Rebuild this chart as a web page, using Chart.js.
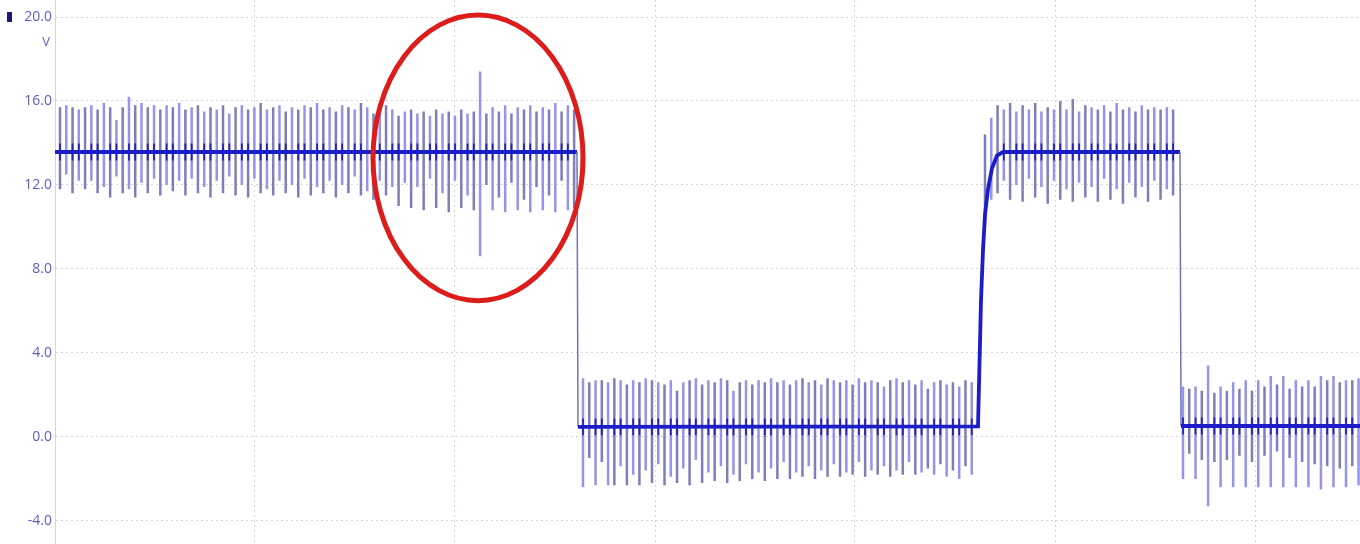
<!DOCTYPE html>
<html>
<head>
<meta charset="utf-8">
<script src="https://cdn.jsdelivr.net/npm/chart.js@4.4.0/dist/chart.umd.min.js"></script>
<style>
  html, body { margin: 0; padding: 0; background: #fff; }
  #wrap { width: 1360px; height: 544px; position: relative; }
</style>
</head>
<body>
<div id="wrap"><canvas id="scope"></canvas></div>
<script>
// trace levels per section (V) and spike timing (x in grid units, 10 per division)
const levels = [13.57, 0.48, 13.57, 0.52];
const spikeStart = [0.25, 26.4, 46.5, 56.4];
const spikePeriod = 0.3135;
const fallTimes = [26.1, 56.25];
const riseT = [46.15, 46.3, 46.4, 46.5, 46.65, 46.85, 47.1, 47.4];
const riseV = [0.5, 6.5, 8.9, 10.6, 11.8, 12.8, 13.4, 13.57];

const seg1Hi = [15.7, 15.8, 15.7, 15.6, 15.7, 15.8, 15.6, 15.9, 15.7, 15.1, 15.7, 16.2, 15.8, 15.9, 15.7, 15.8, 15.6, 15.8, 15.7, 15.9,
  15.6, 15.7, 15.8, 15.5, 15.7, 15.6, 15.8, 15.4, 15.7, 15.8, 15.6, 15.7, 15.9, 15.6, 15.7, 15.8, 15.5, 15.7, 15.6, 15.8,
  15.7, 15.9, 15.6, 15.7, 15.5, 15.8, 15.7, 15.6, 15.9, 15.7, 15.4, 15.7, 15.8, 15.6,
  15.3, 15.5, 15.6, 15.4, 15.5, 15.3, 15.6, 15.4, 15.5, 15.3, 15.6, 15.4, 15.5, 17.4, 15.4, 15.7, 15.5, 15.8, 15.4, 15.7,
  15.6, 15.8, 15.5, 15.7, 15.6, 15.9, 15.5, 15.8, 15.6];
const seg1Lo = [11.8, 12.5, 11.6, 12.2, 11.8, 12.2, 11.6, 11.9, 11.4, 12.4, 11.6, 11.8, 11.4, 12.1, 11.6, 12.3, 11.5, 12.0, 11.7, 12.2,
  11.5, 12.3, 11.6, 11.9, 11.4, 12.2, 11.6, 12.4, 11.5, 12.0, 11.4, 12.3, 11.6, 11.8, 11.5, 12.2, 11.6, 12.0, 11.4, 12.3,
  11.5, 11.9, 11.6, 12.2, 11.4, 12.0, 11.6, 12.4, 11.5, 11.7, 11.3, 12.2, 11.5, 11.9,
  11.0, 12.1, 10.9, 11.9, 10.8, 12.3, 10.9, 11.6, 10.7, 12.2, 10.9, 11.5, 10.8, 8.6, 12.0, 10.8, 11.4, 10.7, 12.1, 10.8,
  11.3, 10.7, 11.9, 10.8, 11.5, 10.7, 12.2, 10.8, 10.9];
const seg2Hi = [2.8, 2.6, 2.7, 2.7, 2.6, 2.8, 2.7, 2.5, 2.7, 2.6, 2.8, 2.7, 2.6, 2.5, 2.7, 2.2, 2.6, 2.7, 2.8, 2.5,
  2.7, 2.6, 2.8, 2.7, 2.2, 2.6, 2.7, 2.5, 2.7, 2.6, 2.8, 2.6, 2.7, 2.5, 2.7, 2.8, 2.6, 2.7, 2.5, 2.8,
  2.7, 2.6, 2.7, 2.5, 2.8, 2.6, 2.7, 2.6, 2.4, 2.7, 2.8, 2.6, 2.7, 2.5, 2.7, 2.3, 2.6, 2.7, 2.5, 2.6,
  2.4, 2.7, 2.6];
const seg2Lo = [-2.4, -1.0, -2.3, -1.2, -2.3, -2.3, -1.4, -2.3, -1.8, -2.3, -1.6, -2.2, -1.3, -2.3, -1.9, -2.2, -1.5, -2.3, -1.1, -2.2,
  -1.7, -2.1, -1.4, -2.2, -1.8, -2.1, -1.3, -2.0, -1.7, -2.1, -1.5, -2.0, -1.2, -2.0, -1.7, -1.9, -1.4, -2.0, -1.6, -1.9,
  -1.3, -1.9, -1.7, -1.8, -1.2, -1.9, -1.6, -1.8, -1.4, -1.9, -1.6, -1.8, -1.2, -1.8, -1.7, -1.5, -1.8, -1.3, -1.9, -1.6,
  -2.0, -1.4, -1.8];
const seg3Hi = [14.4, 15.2, 15.8, 15.6, 15.9, 15.5, 15.8, 15.6, 15.9, 15.5, 15.7, 15.6, 16.0, 15.6, 16.1, 15.5,
  15.8, 15.7, 15.6, 15.8, 15.5, 15.9, 15.6, 15.7, 15.5, 15.8, 15.6, 15.7, 15.6, 15.7, 15.6];
const seg3Lo = [10.0, 11.3, 11.6, 12.2, 11.3, 12.0, 11.2, 12.3, 11.4, 11.9, 11.1, 12.2, 11.3, 11.8, 11.2, 12.1,
  11.4, 11.9, 11.2, 12.3, 11.3, 11.8, 11.1, 12.1, 11.4, 11.9, 11.2, 12.2, 11.3, 11.8, 11.5];
const seg4Hi = [2.4, 2.3, 2.4, 2.2, 3.4, 2.1, 2.4, 2.2, 2.6, 2.3, 2.7, 2.2, 2.7, 2.4, 2.9, 2.5, 2.9, 2.3, 2.7, 2.4,
  2.7, 2.4, 2.9, 2.7, 2.9, 2.6, 2.7, 2.7, 2.8];
const seg4Lo = [-2.0, -0.8, -2.0, -1.1, -3.3, -1.2, -2.4, -1.1, -2.4, -0.9, -2.4, -1.2, -2.4, -0.9, -2.4, -0.7, -2.4, -1.0, -2.4, -1.2,
  -2.4, -1.3, -2.5, -1.4, -2.4, -1.5, -2.4, -1.4, -2.3];

const yTicks = [-4, 0, 4, 8, 12, 16, 20];
const xGrid = [0, 10, 20, 30, 40, 50, 60];
const unitLabel = 'V';
const marker = { x: 21.15, y: 13.29, rx: 5.25, ry: 6.8 };

const segHi = [seg1Hi, seg2Hi, seg3Hi, seg4Hi];
const segLo = [seg1Lo, seg2Lo, seg3Lo, seg4Lo];

// vertical spike strokes, separated by gaps
const spikePts = [];
const tickPts = [];
segHi.forEach((his, s) => {
  his.forEach((hi, i) => {
    const t = spikeStart[s] + i * spikePeriod;
    const lo = segLo[s][i];
    spikePts.push({ x: t, y: hi }, { x: t, y: lo }, { x: t, y: null });
    if (s === 2 && t < riseT[riseT.length - 1]) return;
    if (i % 3 === 1) return;
    const lv = levels[s];
    tickPts.push({ x: t, y: Math.min(hi, lv + 0.4) }, { x: t, y: Math.max(lo, lv - 0.4) }, { x: t, y: null });
  });
});

// main trace
const tracePts = [
  { x: 0, y: levels[0] }, { x: fallTimes[0], y: levels[0] },
  { x: fallTimes[0] + 0.05, y: levels[1] }
];
riseT.forEach((t, i) => tracePts.push({ x: t, y: riseV[i] }));
tracePts.push({ x: fallTimes[1], y: levels[2] }, { x: fallTimes[1] + 0.05, y: levels[3] }, { x: 65.25, y: levels[3] });

const markerPlugin = {
  id: 'marker',
  afterDatasetsDraw(chart) {
    const { ctx, scales: { x, y } } = chart;
    const cx = x.getPixelForValue(marker.x);
    const cy = y.getPixelForValue(marker.y);
    const rx = x.getPixelForValue(marker.x + marker.rx) - cx;
    const ry = cy - y.getPixelForValue(marker.y + marker.ry);
    ctx.save();
    ctx.beginPath();
    ctx.ellipse(cx, cy, rx, ry, 0, 0, Math.PI * 2);
    ctx.strokeStyle = '#dd1c1c';
    ctx.lineWidth = 5;
    ctx.stroke();
    ctx.restore();
  },
  afterDraw(chart) {
    const { ctx, scales: { y } } = chart;
    const top = y.getPixelForValue(20);
    ctx.save();
    ctx.fillStyle = '#5b5fc4';
    ctx.font = '13px "Open Sans"';
    ctx.textAlign = 'right';
    ctx.textBaseline = 'middle';
    ctx.fillText(unitLabel, y.right - 5, top + 25);
    ctx.fillStyle = '#1a1a7c';
    ctx.fillRect(7, top - 5, 5, 10);
    ctx.restore();
  }
};

new Chart(document.getElementById('scope'), {
  type: 'line',
  data: {
    datasets: [
      {
        data: tracePts,
        borderColor: '#1c1cc8',
        borderWidth: 3.8,
        pointRadius: 0,
        order: 0,
        segment: {
          borderWidth: c => (Math.abs(c.p1.parsed.y - c.p0.parsed.y) > 8 ? 1.5 : undefined),
          borderColor: c => (Math.abs(c.p1.parsed.y - c.p0.parsed.y) > 8 ? '#7373b4' : undefined)
        }
      },
      {
        data: tickPts,
        borderColor: '#2323b4',
        borderWidth: 1.8,
        pointRadius: 0,
        order: 1
      },
      {
        data: spikePts,
        borderColor: '#9494ea',
        borderWidth: 2.5,
        pointRadius: 0,
        order: 2,
        segment: {
          borderColor: c => (Math.floor(c.p0DataIndex / 3) % 2 === 0 ? '#7e7eb8' : '#9494ea')
        }
      }
    ]
  },
  options: {
    responsive: true,
    maintainAspectRatio: false,
    animation: false,
    layout: { padding: 0 },
    plugins: { legend: { display: false }, tooltip: { enabled: false } },
    scales: {
      x: {
        type: 'linear',
        min: 0,
        max: 65.25,
        ticks: { display: false, stepSize: 10 },
        afterBuildTicks: s => { s.ticks = xGrid.map(v => ({ value: v })); },
        afterFit: s => { s.height = 0; s.paddingLeft = 0; s.paddingRight = 0; },
        grid: { color: '#d2d4de', drawTicks: false },
        border: { display: false, dash: [2, 3] }
      },
      y: {
        min: -5.1,
        max: 20.81,
        afterBuildTicks: s => { s.ticks = yTicks.map(v => ({ value: v })); },
        afterFit: s => { s.width = 55; s.paddingTop = 0; s.paddingBottom = 0; },
        ticks: {
          color: '#5b5fc4',
          font: { family: 'Open Sans', size: 14 },
          padding: 3,
          callback: v => v.toFixed(1)
        },
        grid: { color: '#d2d4de', drawTicks: false },
        border: { display: true, color: '#d2d4de', dash: [2, 3] }
      }
    }
  },
  plugins: [markerPlugin]
});
</script>
</body>
</html>
